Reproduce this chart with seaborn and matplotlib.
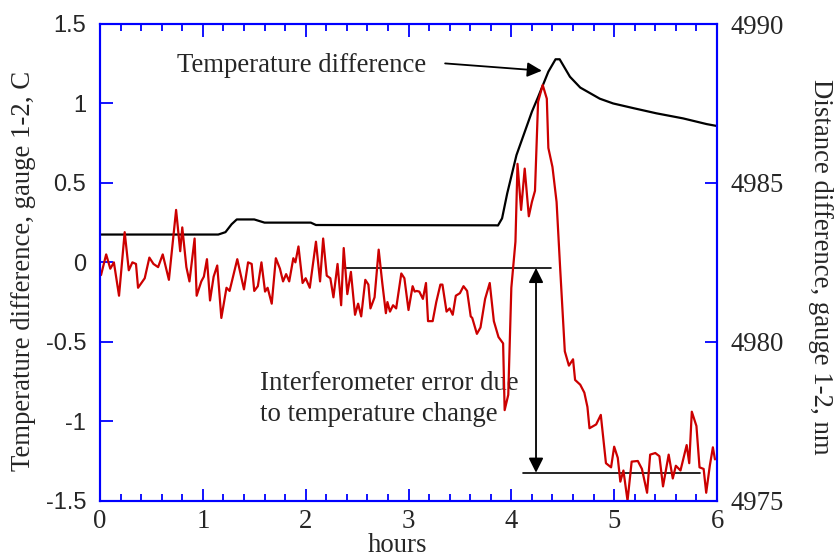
import matplotlib
matplotlib.use("Agg")
import matplotlib.pyplot as plt
import seaborn as sns
import numpy as np
import pandas as pd

# ---------------- data ----------------
temp_hours = [0.0, 1.15, 1.22, 1.28, 1.33, 1.5, 1.55, 1.6, 2.05, 2.1, 3.85, 3.87,
              3.91, 3.96, 4.05, 4.2, 4.26, 4.36, 4.43, 4.47, 4.57, 4.67, 4.86,
              4.99, 5.19, 5.41, 5.67, 5.9, 6.0]
temp_diff = [0.175, 0.175, 0.19, 0.24, 0.27, 0.27, 0.26, 0.25, 0.25, 0.235, 0.233, 0.232,
             0.277, 0.434, 0.675, 0.948, 1.04, 1.2, 1.278, 1.278, 1.168, 1.1, 1.03,
             1.0, 0.97, 0.938, 0.906, 0.87, 0.858]

dist_hours = [0.01, 0.06, 0.10, 0.135, 0.185, 0.24, 0.28, 0.315, 0.35, 0.37, 0.435, 0.48,
              0.52, 0.565, 0.61, 0.67, 0.74, 0.78, 0.80, 0.84, 0.87, 0.92, 0.94, 0.985,
              1.01, 1.04, 1.07, 1.105, 1.14, 1.18, 1.23, 1.26, 1.335, 1.40, 1.44, 1.475,
              1.50, 1.535, 1.57, 1.605, 1.63, 1.67, 1.71, 1.75, 1.78, 1.81, 1.84, 1.88,
              1.90, 1.93, 1.97, 2.00, 2.04, 2.10, 2.14, 2.17, 2.205, 2.24, 2.27, 2.31,
              2.345, 2.37, 2.405, 2.44, 2.48, 2.51, 2.54, 2.58, 2.61, 2.63, 2.67, 2.71,
              2.745, 2.78, 2.795, 2.82, 2.85, 2.88, 2.93, 2.96, 3.00, 3.04, 3.06, 3.08,
              3.105, 3.14, 3.17, 3.19, 3.235, 3.27, 3.31, 3.33, 3.37, 3.40, 3.43, 3.46,
              3.50, 3.535, 3.57, 3.605, 3.62, 3.665, 3.70, 3.745, 3.79, 3.83, 3.875, 3.92,
              3.935, 3.97, 4.00, 4.04, 4.06, 4.095, 4.13, 4.17, 4.20, 4.23, 4.26, 4.305,
              4.345, 4.36, 4.40, 4.44, 4.475, 4.52, 4.56, 4.60, 4.62, 4.67, 4.71, 4.74,
              4.76, 4.825, 4.87, 4.92, 4.97, 5.00, 5.035, 5.06, 5.09, 5.13, 5.17, 5.23,
              5.27, 5.32, 5.35, 5.40, 5.44, 5.475, 5.53, 5.57, 5.60, 5.645, 5.705, 5.73,
              5.755, 5.80, 5.83, 5.87, 5.895, 5.93, 5.96, 5.98]
dist_diff = [4982.10, 4982.75, 4982.30, 4982.50, 4981.45, 4983.45, 4982.25, 4982.50, 4982.45,
             4981.70, 4982.00, 4982.65, 4982.45, 4982.35, 4982.75, 4981.95, 4984.15, 4982.85,
             4983.60, 4982.35, 4981.90, 4983.25, 4981.45, 4981.90, 4982.05, 4982.60, 4981.30,
             4982.05, 4982.40, 4980.75, 4981.70, 4981.60, 4982.60, 4981.65, 4982.50, 4982.45,
             4981.60, 4981.75, 4982.50, 4981.58, 4981.70, 4981.20, 4982.63, 4982.30, 4981.90,
             4982.13, 4981.90, 4982.63, 4982.50, 4983.00, 4981.85, 4982.00, 4981.70, 4983.15,
             4981.90, 4983.25, 4982.08, 4982.00, 4981.40, 4982.45, 4981.15, 4982.95, 4981.50,
             4982.20, 4980.85, 4981.20, 4980.80, 4981.95, 4981.80, 4981.05, 4981.40, 4982.90,
             4981.85, 4980.90, 4981.25, 4980.95, 4981.15, 4981.05, 4982.15, 4982.00, 4981.00,
             4981.75, 4981.58, 4981.60, 4981.58, 4981.35, 4981.85, 4980.65, 4980.65, 4981.25,
             4981.80, 4981.80, 4980.95, 4981.05, 4980.85, 4981.45, 4981.53, 4981.75, 4981.60,
             4980.80, 4980.75, 4980.25, 4980.45, 4981.35, 4981.85, 4980.65, 4980.15, 4979.95,
             4977.85, 4978.33, 4981.70, 4983.15, 4985.60, 4984.15, 4985.45, 4983.95, 4984.40,
             4984.75, 4987.55, 4988.08, 4987.65, 4986.10, 4985.50, 4984.40, 4982.30, 4979.70,
             4979.25, 4979.45, 4978.80, 4978.65, 4978.40, 4977.95, 4977.28, 4977.40, 4977.70,
             4976.18, 4976.05, 4976.70, 4976.35, 4975.60, 4975.95, 4975.00, 4976.23, 4976.25,
             4976.00, 4975.25, 4976.45, 4976.50, 4976.40, 4975.45, 4976.45, 4975.70, 4976.10,
             4975.95, 4976.75, 4976.18, 4977.80, 4977.35, 4976.05, 4976.00, 4975.25, 4976.10,
             4976.68, 4976.30]

x_ticks = [0, 1, 2, 3, 4, 5, 6]
left_ticks = [-1.5, -1, -0.5, 0, 0.5, 1, 1.5]
left_tick_labels = ["-1.5", "-1", "-0.5", "0", "0.5", "1", "1.5"]
right_ticks = [4975, 4980, 4985, 4990]

# annotation geometry (left-axis units)
top_ref = dict(x0=2.375, x1=4.39, y=-0.035)
bot_ref = dict(x0=4.11, x1=5.83, y=-1.324)
err_arrow_x = 4.24

# ---------------- style ----------------
sns.set_theme(style="white")
plt.rcParams["font.family"] = ["Liberation Serif", "DejaVu Serif"]

BLUE = "#0000ff"
RED = "#cc0000"
FS = 19.3

fig = plt.figure(figsize=(8.35, 5.6), dpi=100)
fig.patch.set_facecolor("white")
ax = fig.add_axes([100 / 835, 1 - 500.7 / 560, 617 / 835, 476.7 / 560])
ax2 = ax.twinx()

temp_df = pd.DataFrame({"hours": temp_hours, "temp": temp_diff})
dist_df = pd.DataFrame({"hours": dist_hours, "dist": dist_diff})

sns.lineplot(data=temp_df, x="hours", y="temp", ax=ax, color="black", lw=1.6,
             estimator=None, sort=False)
sns.lineplot(data=dist_df, x="hours", y="dist", ax=ax2, color=RED, lw=1.6,
             estimator=None, sort=False)

ax.set_xlim(0, 6)
ax.set_ylim(-1.5, 1.5)
ax2.set_ylim(4975, 4990)
ax.set_xlabel("")
ax.set_ylabel("")
ax2.set_ylabel("")

for a in (ax, ax2):
    for s in a.spines.values():
        s.set_color(BLUE)
        s.set_linewidth(1.5)
        s.set_visible(True)
    a.set_facecolor("none")

ax.set_xticks(x_ticks)
ax.set_xticks(np.arange(0, 6.001, 0.2), minor=True)
ax.set_yticks(left_ticks)
ax.set_yticklabels(left_tick_labels, family="Liberation Sans", fontsize=17)
ax.tick_params(axis="x", which="major", direction="in", length=9, width=1.3,
               color=BLUE, top=True, bottom=True, labelsize=FS, pad=6)
ax.tick_params(axis="x", which="minor", direction="in", length=4.8, width=1.3,
               color=BLUE, top=True, bottom=True)
ax.tick_params(axis="y", which="major", direction="in", length=9, width=1.3,
               color=BLUE, left=True, right=False, pad=10)
ax.tick_params(axis="y", which="minor", left=False, right=False)
ax2.set_yticks(right_ticks)
ax2.tick_params(axis="y", which="major", direction="in", length=9, width=1.3,
                color=BLUE, right=True, left=False, labelsize=FS, pad=10)
ax2.tick_params(axis="y", which="minor", left=False, right=False)
ax2.tick_params(axis="x", which="both", top=False, bottom=False)

# axis labels
fig.text(24 / 835, 1 - 271 / 560, "Temperature difference, gauge 1-2, C",
         rotation=90, ha="center", va="center", fontsize=FS)
fig.text(821 / 835, 1 - 267 / 560, "Distance difference, gauge 1-2, nm",
         rotation=-90, ha="center", va="center", fontsize=FS)
fig.text(397 / 835, 1.5 / 560, "hours", ha="center", va="bottom", fontsize=FS)

# annotations
ax.text(0.749, 1.1995, "Temperature difference", fontsize=FS, va="baseline", ha="left")
ax.annotate("", xy=(4.297, 1.206), xytext=(3.356, 1.252),
            arrowprops=dict(arrowstyle="-|>", color="black", lw=1.3,
                            mutation_scale=22, shrinkA=0, shrinkB=0))
ax.text(1.556, -0.804, "Interferometer error due", fontsize=FS, va="baseline", ha="left")
ax.text(1.556, -0.997, "to temperature change", fontsize=FS, va="baseline", ha="left")
ax.plot([top_ref["x0"], top_ref["x1"]], [top_ref["y"], top_ref["y"]], color="black", lw=1.2)
ax.plot([bot_ref["x0"], bot_ref["x1"]], [bot_ref["y"], bot_ref["y"]], color="black", lw=1.2)
ax.annotate("", xy=(err_arrow_x, top_ref["y"]), xytext=(err_arrow_x, bot_ref["y"]),
            arrowprops=dict(arrowstyle="<|-|>", color="black", lw=1.3,
                            mutation_scale=22, shrinkA=0, shrinkB=0))

fig.savefig("out.png", dpi=100, facecolor="white")
